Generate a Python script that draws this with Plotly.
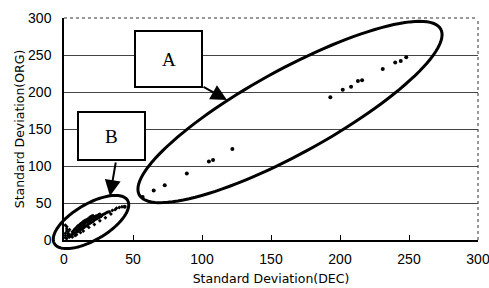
import numpy as np
import plotly.graph_objects as go

# ---- data ----
cluster_b_x = [1, 1, 1, 2, 2, 2, 1, 3, 3, 2, 4, 4, 3, 4,
               5, 6, 6, 7, 7, 8, 8, 9, 9, 10, 10, 10, 11, 11, 11, 12, 12, 12,
               13, 13, 13, 14, 14, 14, 15, 15, 15, 16, 16, 16, 17, 17, 17,
               18, 18, 18, 19, 19, 19, 20, 20, 20, 21, 21, 21, 22, 22, 23, 23,
               24, 24, 25, 25, 26, 26, 27, 28, 29, 30, 31, 32, 33, 35, 37, 38, 40, 42,
               6, 8, 12, 14, 9, 18, 22, 26, 30, 34]
cluster_b_y = [3, 6, 9, 12, 15, 18, 20, 5, 8, 2, 4, 7, 11, 14,
               6, 8, 11, 9, 13, 10, 15, 12, 17, 11, 14, 19, 13, 16, 20, 14, 18, 22,
               15, 19, 23, 16, 21, 25, 18, 22, 26, 19, 24, 27, 20, 25, 28,
               22, 26, 29, 23, 27, 31, 24, 28, 32, 25, 29, 33, 27, 31, 28, 32,
               29, 33, 30, 34, 31, 35, 32, 34, 35, 36, 37, 38, 38, 40, 41, 43, 44, 45,
               4, 6, 10, 12, 7, 17, 21, 26, 30, 35]

cluster_a_x = [44, 57, 65, 73, 89, 105, 108, 122, 193, 202, 208, 213, 216, 231, 240, 244, 248]
cluster_a_y = [45, 58, 67, 74, 90, 106, 108, 123, 193, 203, 207, 215, 216, 231, 240, 242, 247]

tick_vals = [0, 50, 100, 150, 200, 250, 300]
tick_text = ["0", "50", "100", "150", "200", "250", "300"]
box_labels = ["A", "B"]

# ---- layout geometry ----
W, H = 489, 288
ML, MR, MT, MB = 64, 11, 18, 48
PW, PH = W - ML - MR, H - MT - MB


def px_to_paper(px, py):
    return (px - ML) / PW, (H - MB - py) / PH


def ellipse_path(cx, cy, a, b, ang_deg, n=120):
    t = np.linspace(0, 2 * np.pi, n)
    th = np.radians(ang_deg)
    x = cx + a * np.cos(th) * np.cos(t) - b * np.sin(th) * np.sin(t)
    y_up = a * np.sin(th) * np.cos(t) + b * np.cos(th) * np.sin(t)
    py = cy - y_up
    pts = [px_to_paper(xx, yy) for xx, yy in zip(x, py)]
    return "M " + " L ".join(f"{p[0]:.4f},{p[1]:.4f}" for p in pts) + " Z"


fig = go.Figure()
fig.add_trace(go.Scatter(x=cluster_b_x, y=cluster_b_y, mode="markers",
                         marker=dict(size=3, color="black", symbol="diamond"),
                         showlegend=False, cliponaxis=False))
fig.add_trace(go.Scatter(x=cluster_a_x, y=cluster_a_y, mode="markers",
                         marker=dict(size=4, color="black"),
                         showlegend=False, cliponaxis=False))

shapes = []
# dotted top/right border
shapes.append(dict(type="line", xref="paper", yref="paper", x0=0, x1=1, y0=1, y1=1,
                   line=dict(color="#333", width=1, dash="dot")))
shapes.append(dict(type="line", xref="paper", yref="paper", x0=1, x1=1, y0=0, y1=1,
                   line=dict(color="#333", width=1, dash="dot")))
# ellipses
shapes.append(dict(type="path", xref="paper", yref="paper",
                   path=ellipse_path(290, 112, 172, 42, 28.8),
                   line=dict(color="black", width=3)))
shapes.append(dict(type="path", xref="paper", yref="paper",
                   path=ellipse_path(91, 222, 42.5, 18, 30.5),
                   line=dict(color="black", width=3)))
# label boxes
boxes_px = [(135, 31, 202, 87), (78, 112, 145, 160)]
for (x0, y0, x1, y1) in boxes_px:
    a0 = px_to_paper(x0, y1)
    a1 = px_to_paper(x1, y0)
    shapes.append(dict(type="rect", xref="paper", yref="paper",
                       x0=a0[0], y0=a0[1], x1=a1[0], y1=a1[1],
                       fillcolor="white", line=dict(color="black", width=2)))

annotations = []
for lbl, (x0, y0, x1, y1) in zip(box_labels, boxes_px):
    c = px_to_paper((x0 + x1) / 2, (y0 + y1) / 2)
    annotations.append(dict(xref="paper", yref="paper", x=c[0], y=c[1], text=lbl,
                            xanchor="center", yanchor="middle", showarrow=False,
                            font=dict(family="Liberation Serif", size=19, color="black")))
# arrows
arrows = [((227, 100), (202, 86)), ((110, 196), (116, 161))]
for (tip, tail) in arrows:
    p = px_to_paper(*tip)
    annotations.append(dict(xref="paper", yref="paper", x=p[0], y=p[1], text="",
                            showarrow=True, arrowhead=2, arrowsize=1.6, arrowwidth=2,
                            arrowcolor="black", ax=tail[0] - tip[0], ay=tail[1] - tip[1]))

axis_font = dict(family="Liberation Sans", size=14, color="black")
title_font = dict(family="DejaVu Sans", size=12.5, color="black")
fig.update_layout(
    width=W, height=H,
    margin=dict(l=ML, r=MR, t=MT, b=MB, autoexpand=False),
    paper_bgcolor="white", plot_bgcolor="white",
    shapes=shapes, annotations=annotations,
    xaxis=dict(range=[0, 300], tickvals=tick_vals, ticktext=tick_text,
               automargin=False, ticklabeloverflow="allow",
               showgrid=False, zeroline=False, showline=True, linecolor="black",
               linewidth=1.5, ticks="inside", ticklen=5, tickcolor="black",
               tickfont=axis_font, ticklabelstandoff=5,
               title=dict(text="Standard Deviation(DEC)", standoff=9, font=title_font)),
    yaxis=dict(range=[0, 300], tickvals=tick_vals, ticktext=tick_text,
               automargin=False, ticklabeloverflow="allow",
               showgrid=True, gridcolor="#444", gridwidth=1,
               zeroline=False, showline=True, linecolor="black", linewidth=1.5,
               ticks="", tickfont=axis_font, ticklabelstandoff=8,
               title=dict(text="Standard Deviation(ORG)", standoff=1, font=title_font)),
)

fig.write_html("out.html", config={"displayModeBar": False},
               post_script="document.body.style.margin='0';document.body.style.padding='0';")
